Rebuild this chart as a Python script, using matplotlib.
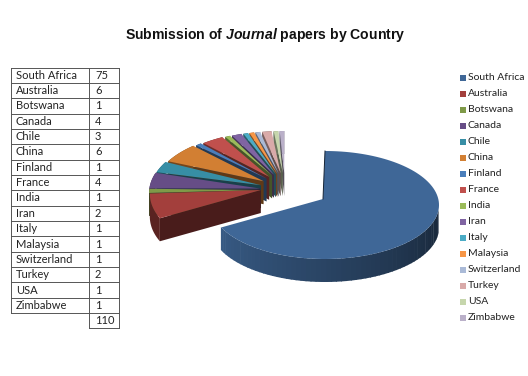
import matplotlib
matplotlib.use('Agg')

import matplotlib.pyplot as plt
import numpy as np
from matplotlib.colors import to_rgb
from matplotlib.patches import Polygon, Rectangle

countries = ['South Africa', 'Australia', 'Botswana', 'Canada', 'Chile', 'China', 'Finland', 'France',
             'India', 'Iran', 'Italy', 'Malaysia', 'Switzerland', 'Turkey', 'USA', 'Zimbabwe']
papers = [75, 6, 1, 4, 3, 6, 1, 4, 1, 2, 1, 1, 1, 2, 1, 1]
total = 110
colors = ['#3f6797', '#a33f3c', '#7f9a48', '#664d86', '#378ea5', '#d27f33', '#4a7ebb', '#c0504d',
          '#9bbb59', '#8064a2', '#4bacc6', '#f79646', '#aabad7', '#d9aaa9', '#c6d6ac', '#bab0c9']

plt.rcParams['mathtext.fontset'] = 'custom'
plt.rcParams['mathtext.bf'] = 'Liberation Sans:bold'
plt.rcParams['mathtext.it'] = 'Liberation Sans:italic:bold'

# whole figure is one axes in pixel coordinates
fig = plt.figure(figsize=(5.28, 3.76), dpi=100)
ax = fig.add_axes([0, 0, 1, 1])
ax.set_xlim(0, 528)
ax.set_ylim(376, 0)
ax.axis('off')

DEPTH = 23


def shade(color, f):
    return tuple(c * f for c in to_rgb(color))


def rim(cx, cy, rx, ry, a0, a1, n=40):
    # angles clockwise from 12 o'clock, in degrees
    t = np.radians(np.linspace(a0, a1, n))
    return np.column_stack([cx + rx * np.sin(t), cy - ry * np.cos(t)])


def warp(a, start):
    # the 3D view squeezes the far side of the pie, bend the angle a bit
    return a + 10 * np.sin(np.pi * (a - start) / (360 - start))


def draw_small_slice(a0, a1, color, start):
    mid = np.radians((a0 + a1) / 2)
    # the slices fan out from a common point behind the big one
    cx = 285 + 25 * np.sin(mid)
    cy = 193 - 3 * np.cos(mid)
    arc = rim(cx, cy, 111, 59, warp(a0, start), warp(a1, start))
    # tips of the far slices sit higher up
    apex = np.array([cx, 190 - 17 * max(np.cos(mid), 0)])
    down = np.array([0, DEPTH])
    wall = np.array([apex, arc[0], arc[0] + down, apex + down])
    ax.add_patch(Polygon(wall, closed=True, fc=shade(color, 0.45), ec='none'))
    outer = np.vstack([arc, (arc + down)[::-1]])
    ax.add_patch(Polygon(outer, closed=True, fc=shade(color, 0.55), ec='none'))
    ax.add_patch(Polygon(np.vstack([apex, arc]), closed=True, fc=color, ec='none'))


def draw_main_slice(a0, a1, color):
    cx, cy, rx, ry = 325, 205, 114, 54
    apex = (323, 199)
    # side wall, lighter on the left and dark on the right
    steps = np.linspace(95, a1, 60)
    for s0, s1 in zip(steps[:-1], steps[1:]):
        seg = rim(cx, cy, rx, ry, s0, s1 + 0.5, 4)
        f = 0.38 + 0.5 * (s0 - 95) / (a1 - 95)
        quad = np.vstack([seg, (seg + [0, DEPTH])[::-1]])
        ax.add_patch(Polygon(quad, closed=True, fc=shade(color, f), ec='none'))
    arc = rim(cx, cy, rx, ry, a0, a1, 120)
    ax.add_patch(Polygon(np.vstack([apex, arc]), closed=True, fc=color, ec='none'))
    ax.plot([arc[0][0], apex[0]], [arc[0][1], apex[1]], color=shade(color, 0.35), lw=0.7)


edges = np.concatenate([[0], np.cumsum(papers)]) / sum(papers) * 360
for i in range(len(papers) - 1, 0, -1):
    draw_small_slice(edges[i], edges[i + 1], colors[i], edges[1])
draw_main_slice(edges[0], edges[1], colors[0])

# title
ax.text(265.5, 35.5, r'Submission of $\mathit{Journal}$ papers by Country', ha='center', va='center',
        fontsize=10.1, fontweight='bold', family='Liberation Sans', color='#111111')

# table on the left
left, mid_x, right, top, row_h = 10.5, 88.5, 118.5, 67.5, 15.35
line = dict(color='#555555', lw=0.7)
for i, (name, value) in enumerate(zip(countries, papers)):
    y = top + i * row_h
    ax.plot([left, right], [y, y], **line)
    ax.text(16, y + row_h / 2, name, ha='left', va='center', fontsize=8, family='Lato', color='#222222')
    ax.text(95, y + row_h / 2, str(value), ha='left', va='center', fontsize=8, family='Lato', color='#222222')
n = len(countries)
bottom = top + n * row_h
ax.plot([left, right], [bottom, bottom], **line)
ax.plot([left, left], [top, bottom], **line)
ax.plot([mid_x, mid_x], [top, bottom + row_h], **line)
ax.plot([right, right], [top, bottom + row_h], **line)
ax.plot([mid_x, right], [bottom + row_h, bottom + row_h], **line)
ax.text(95, bottom + row_h / 2, str(total), ha='left', va='center', fontsize=8, family='Lato', color='#222222')

# legend on the right
for i, (name, color) in enumerate(zip(countries, colors)):
    y = 78 + i * 16
    ax.add_patch(Rectangle((459.5, y - 3), 6, 6, fc=color, ec='none'))
    ax.text(468, y, name, ha='left', va='center', fontsize=7.5, family='Lato', color='#222222')

fig.savefig('out.png', dpi=100)
